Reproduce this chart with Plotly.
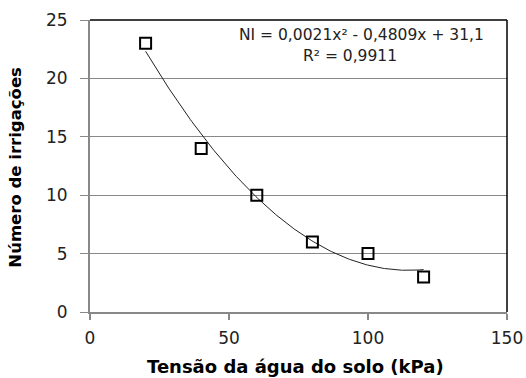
import numpy as np
import plotly.graph_objects as go

tensao = [20, 40, 60, 80, 100, 120]
irrigacoes = [23, 14, 10, 6, 5, 3]
coef = [0.0021, -0.4809, 31.1]  # from displayed equation
x_ticks = [0, 50, 100, 150]
y_ticks = [0, 5, 10, 15, 20, 25]

xs = np.linspace(min(tensao), max(tensao), 200)
ys = np.polyval(coef, xs)

fig = go.Figure()
fig.add_trace(go.Scatter(x=xs, y=ys, mode="lines",
                         line=dict(color="#222222", width=1), showlegend=False, hoverinfo="skip"))
fig.add_trace(go.Scatter(x=tensao, y=irrigacoes, mode="markers",
                         marker=dict(symbol="square-open", size=11, color="black",
                                     line=dict(width=2, color="black")),
                         showlegend=False))

fig.update_layout(
    width=526, height=378,
    margin=dict(l=90, r=19, t=20, b=66),
    paper_bgcolor="white", plot_bgcolor="white",
    font=dict(family="DejaVu Sans", size=17, color="#222222"),
    xaxis=dict(range=[0, 150], tickvals=x_ticks, showgrid=False, zeroline=False,
               showline=True, linecolor="#888888", linewidth=2,
               ticks="outside", ticklen=6, tickcolor="#888888", tickwidth=2,
               ticklabelstandoff=4, automargin=False, ticklabeloverflow="allow"),
    yaxis=dict(range=[0, 25], tickvals=y_ticks, showgrid=True, gridcolor="#888888", gridwidth=1,
               zeroline=False, showline=True, linecolor="#888888", linewidth=2,
               ticks="outside", ticklen=8, tickcolor="#888888", tickwidth=1,
               ticklabelstandoff=9, automargin=False),
    shapes=[
        dict(type="line", xref="paper", yref="paper", x0=0, x1=1, y0=1, y1=1,
             line=dict(color="black", width=1.5)),
        dict(type="line", xref="paper", yref="paper", x0=1, x1=1, y0=0, y1=1,
             line=dict(color="black", width=1.5)),
    ],
    annotations=[
        dict(text="NI = 0,0021x² - 0,4809x + 31,1",
             xref="paper", yref="paper", x=0.650, y=0.947, showarrow=False,
             xanchor="center", yanchor="middle",
             font=dict(family="DejaVu Sans", size=15.5, color="#222222")),
        dict(text="R² = 0,9911",
             xref="paper", yref="paper", x=0.623, y=0.878, showarrow=False,
             xanchor="center", yanchor="middle",
             font=dict(family="DejaVu Sans", size=15.5, color="#222222")),
        dict(text="<b>Tensão da água do solo (kPa)</b>",
             xref="paper", yref="paper", x=0.493, y=-0.185, showarrow=False,
             xanchor="center", yanchor="middle",
             font=dict(family="DejaVu Sans", size=18, color="black")),
        dict(text="<b>Número de irrigações</b>",
             xref="paper", yref="paper", x=-0.178, y=0.497, showarrow=False,
             xanchor="center", yanchor="middle", textangle=-90,
             font=dict(family="DejaVu Sans", size=16.5, color="black")),
    ],
)

fig.write_html("out.html")
